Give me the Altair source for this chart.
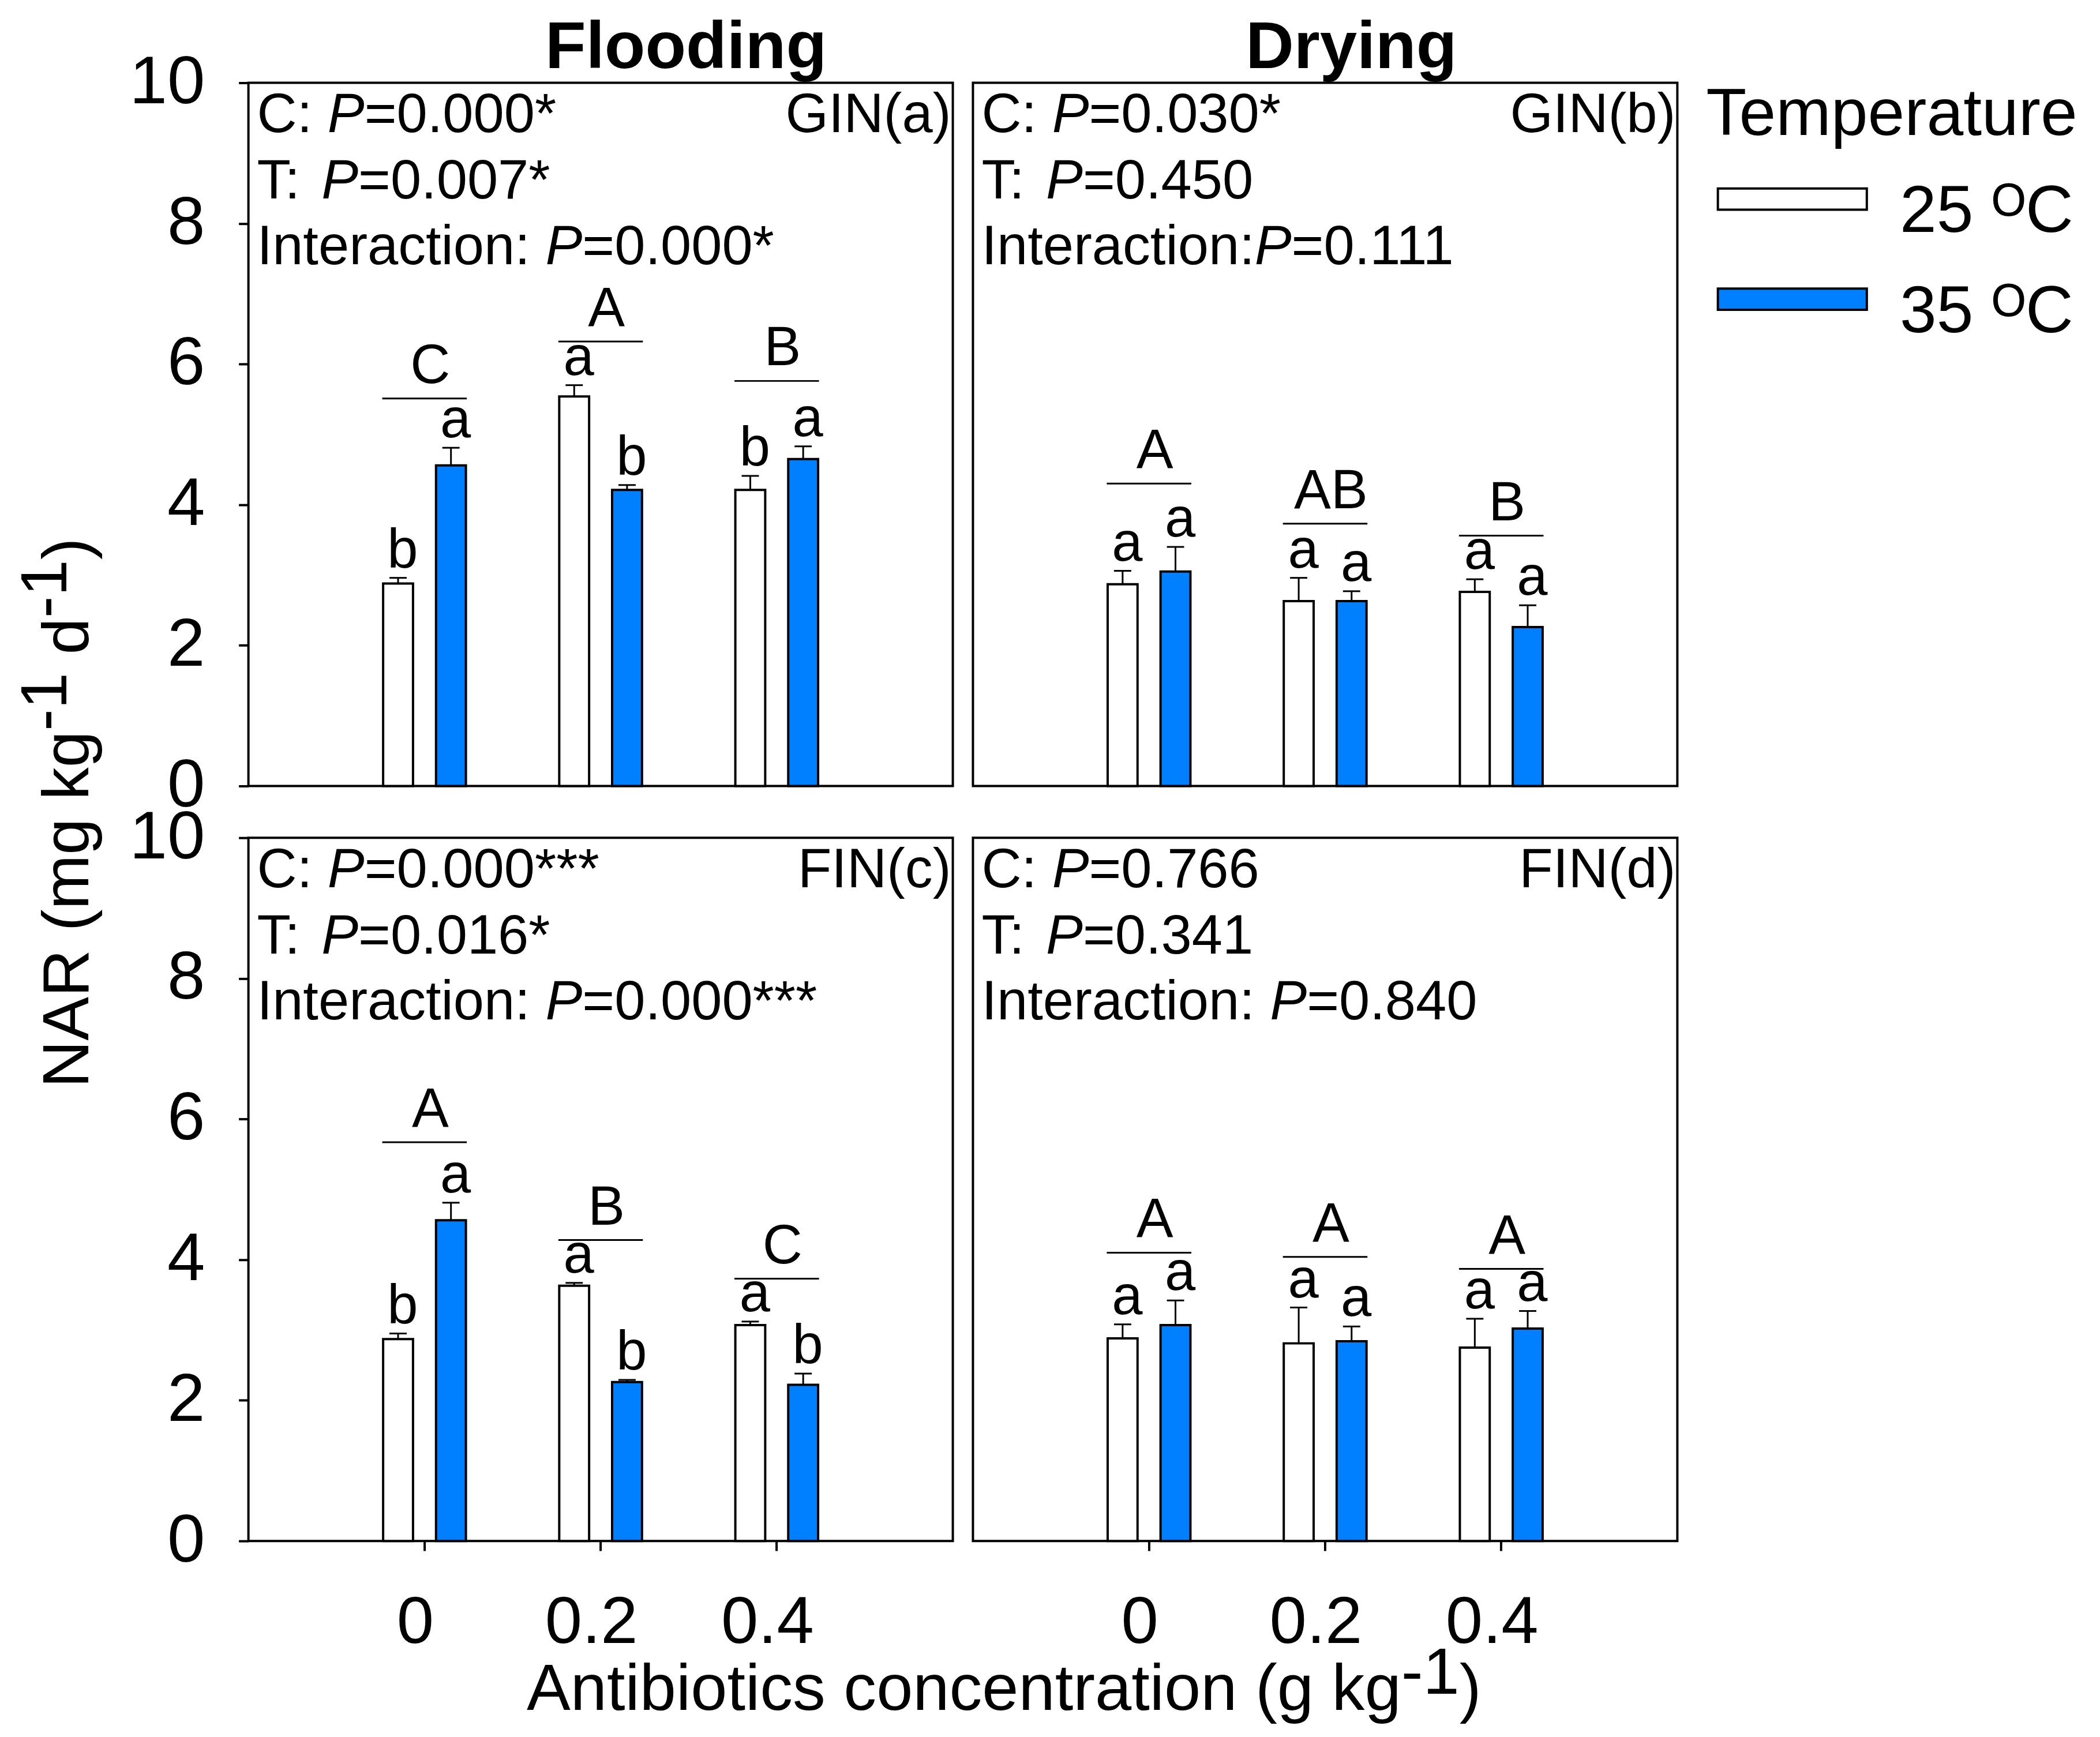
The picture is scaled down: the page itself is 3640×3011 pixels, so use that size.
import altair as alt
import pandas as pd

FONT = "Liberation Sans"

# ---------------- data ----------------
conc = ["0", "0.2", "0.4"]
temps = ["25 ᴼC", "35 ᴼC"]
colors = ["#ffffff", "#0080ff"]

# (a) GIN, Flooding
a_mean25 = [2.88, 5.54, 4.21]
a_se25 = [0.08, 0.16, 0.20]
a_mean35 = [4.56, 4.21, 4.65]
a_se35 = [0.25, 0.07, 0.18]
a_let25 = ["b", "a", "b"]
a_let35 = ["a", "b", "a"]
a_group = ["C", "A", "B"]
a_bracket = [5.51, 6.32, 5.76]
a_stats = [("C: ", "=0.000*"), ("T: ", "=0.007*"), ("Interaction: ", "=0.000*")]
a_tag = "GIN(a)"

# (b) GIN, Drying
b_mean25 = [2.87, 2.63, 2.76]
b_se25 = [0.19, 0.33, 0.18]
b_mean35 = [3.05, 2.63, 2.26]
b_se35 = [0.35, 0.14, 0.31]
b_let25 = ["a", "a", "a"]
b_let35 = ["a", "a", "a"]
b_group = ["A", "AB", "B"]
b_bracket = [4.30, 3.73, 3.56]
b_stats = [("C: ", "=0.030*"), ("T: ", "=0.450"), ("Interaction:", "=0.111")]
b_tag = "GIN(b)"

# (c) FIN, Flooding
c_mean25 = [2.87, 3.63, 3.07]
c_se25 = [0.08, 0.04, 0.05]
c_mean35 = [4.56, 2.26, 2.22]
c_se35 = [0.25, 0.03, 0.16]
c_let25 = ["b", "a", "a"]
c_let35 = ["a", "b", "b"]
c_group = ["A", "B", "C"]
c_bracket = [5.67, 4.28, 3.73]
c_stats = [("C: ", "=0.000***"), ("T: ", "=0.016*"), ("Interaction: ", "=0.000***")]
c_tag = "FIN(c)"

# (d) FIN, Drying
d_mean25 = [2.88, 2.81, 2.75]
d_se25 = [0.20, 0.51, 0.41]
d_mean35 = [3.07, 2.84, 3.02]
d_se35 = [0.35, 0.21, 0.25]
d_let25 = ["a", "a", "a"]
d_let35 = ["a", "a", "a"]
d_group = ["A", "A", "A"]
d_bracket = [4.10, 4.04, 3.87]
d_stats = [("C: ", "=0.766"), ("T: ", "=0.341"), ("Interaction: ", "=0.840")]
d_tag = "FIN(d)"

y_ticks = [0, 2, 4, 6, 8, 10]

# ---------------- layout / style ----------------
W, H = 1225, 1223
TXT = 96
ARIAL = {'C': 0.722, 'T': 0.611, 'I': 0.278, 'n': 0.556, 't': 0.278, 'e': 0.556,
         'r': 0.333, 'a': 0.556, 'c': 0.5, 'i': 0.222, 'o': 0.556, ':': 0.278,
         ' ': 0.278, 'P': 0.667}


def tw(s, size):
    return sum(ARIAL[ch] for ch in s) * size


def txt(s, x, y, size=TXT, style="normal", weight="normal", align="left", angle=0):
    return alt.Chart(pd.DataFrame({"t": [s]})).mark_text(
        font=FONT, fontSize=size, fontStyle=style, fontWeight=weight,
        align=align, baseline="alphabetic", angle=angle, color="black"
    ).encode(x=alt.value(x), y=alt.value(y), text="t:N")


legend = alt.Legend(
    orient="none", legendX=2535, legendY=0, padding=0, offset=0,
    title="Temperature", titleFont=FONT, titleFontSize=115, titleFontWeight="normal",
    titleColor="black", titleBaseline="top", titlePadding=52, titleLimit=2000,
    labelFont=FONT, labelFontSize=115, labelColor="black", labelBaseline="middle",
    labelLimit=2000, labelOffset=222, symbolType="M-1,-1.1H6V-0.1H-1Z", symbolSize=5476,
    symbolStrokeColor="black", symbolStrokeWidth=4, symbolOpacity=1, rowPadding=58,
)

view = alt.ViewBackground(stroke="black", strokeWidth=4, fill="transparent")


def panel(m25, se25, m35, se35, l25, l35, groups, bracket, stats, tag, show_x, show_y, extra):
    df = pd.DataFrame({
        "conc": conc * 2,
        "temp": [temps[0]] * 3 + [temps[1]] * 3,
        "mean": m25 + m35,
        "se": se25 + se35,
        "letter": l25 + l35,
    })
    df["top"] = df["mean"] + df["se"]
    gdf = pd.DataFrame({"conc": conc, "cap": groups, "brk": bracket})

    xaxis = alt.Axis(labelFont=FONT, labelFontSize=116, labelColor="black", labelAngle=0,
                     tickSize=17, tickWidth=4, tickColor="black", domain=False, grid=False,
                     labelPadding=68, labelOffset=-16) if show_x else None
    yaxis = alt.Axis(values=y_ticks, format="d", labelFont=FONT, labelFontSize=118,
                     labelColor="black", tickSize=17, tickWidth=4, tickColor="black",
                     domain=False, grid=False, labelPadding=59) if show_y else None
    xs = alt.Scale(paddingInner=0.53, paddingOuter=0.765)
    ys = alt.Scale(domain=[0, 10], nice=False)
    x = alt.X("conc:N", sort=conc, scale=xs, axis=xaxis, title=None)
    xo = alt.XOffset("temp:N", sort=temps, scale=alt.Scale(paddingInner=0.435, paddingOuter=0))

    def Y(f):
        return alt.Y(f, scale=ys, axis=yaxis, title=None, stack=False)

    base = alt.Chart(df)
    bars = base.mark_bar(stroke="black", strokeWidth=4, opacity=1).encode(
        x=x, xOffset=xo, y=Y("mean:Q"),
        color=alt.Color("temp:N", sort=temps, scale=alt.Scale(domain=temps, range=colors), legend=legend),
    )
    err = base.mark_rule(color="black", strokeWidth=3).encode(x=x, xOffset=xo, y=Y("mean:Q"), y2="top:Q")
    caps = base.mark_tick(color="black", size=30, thickness=3, opacity=1).encode(x=x, xOffset=xo, y=Y("top:Q"))
    lets = base.mark_text(font=FONT, fontSize=TXT, baseline="alphabetic", dy=-18, dx=8, color="black").encode(
        x=x, xOffset=xo, y=Y("top:Q"), text="letter:N")
    g = alt.Chart(gdf)
    brk = g.mark_tick(color="black", size=147, thickness=3, opacity=1).encode(x=x, y=Y("brk:Q"))
    capt = g.mark_text(font=FONT, fontSize=TXT, baseline="alphabetic", dy=-27, dx=10, color="black").encode(
        x=x, y=Y("brk:Q"), text="cap:N")

    texts = []
    x0 = 15
    for (pre, rest), yy in zip(stats, [86, 201, 316]):
        w = tw(pre, TXT)
        texts += [txt(pre, x0, yy), txt("P", x0 + w, yy, style="italic"),
                  txt(rest, x0 + w + tw("P", TXT), yy)]
    texts.append(txt(tag, W - 3, 86, align="right"))
    return alt.layer(bars, err, caps, lets, brk, capt, *texts, *extra).properties(
        width=W, height=H, view=view)


# invisible frame fixing the canvas extent (panel a coordinates)
frame = alt.Chart(pd.DataFrame({"t": [0]})).mark_rule(strokeOpacity=0, strokeWidth=1).encode(
    x=alt.value(-422), x2=alt.value(3210), y=alt.value(-129), y2=alt.value(2874))

# column titles
extra_a = [frame, txt("Flooding", 761, -26, size=116, weight="bold", align="center")]
extra_b = [txt("Drying", 658, -26, size=116, weight="bold", align="center")]

# y-axis title with superscripts (rotated), in panel a coordinates
YS = 114
yb, yr = -279, -317
y1 = 1748
y2 = y1 - 5.445 * YS
y3 = y2 - 0.889 * YS - 0.278 * YS
y4 = y3 - 0.556 * YS
y5 = y4 - 0.889 * YS
extra_a += [
    txt("NAR (mg kg", yb, y1, size=YS, angle=270),
    txt("-1", yr, y2, size=YS, angle=270),
    txt("d", yb, y3, size=YS, angle=270),
    txt("-1", yr, y4, size=YS, angle=270),
    txt(")", yb, y5, size=YS, angle=270),
]

# x-axis title with superscript, in panel c coordinates
xb, xr = 1517, 1489
x1 = 484
x2 = x1 + 13.339 * YS
x3 = x2 + 0.889 * YS
extra_c = [
    txt("Antibiotics concentration (g kg", x1, xb, size=YS),
    txt("-1", x2, xr, size=YS),
    txt(")", x3, xb, size=YS),
]

pa = panel(a_mean25, a_se25, a_mean35, a_se35, a_let25, a_let35, a_group, a_bracket, a_stats, a_tag, False, True, extra_a)
pb = panel(b_mean25, b_se25, b_mean35, b_se35, b_let25, b_let35, b_group, b_bracket, b_stats, b_tag, False, False, extra_b)
pc = panel(c_mean25, c_se25, c_mean35, c_se35, c_let25, c_let35, c_group, c_bracket, c_stats, c_tag, True, True, extra_c)
pd_ = panel(d_mean25, d_se25, d_mean35, d_se35, d_let25, d_let35, d_group, d_bracket, d_stats, d_tag, True, False, [])

chart = alt.concat(pa, pb, pc, pd_, columns=2, spacing={"row": 90, "column": 35}, bounds="flush").properties(
    padding=0, background="white",
).configure_view(stroke="black", strokeWidth=4)

chart.save("out.html", embed_options={"renderer": "svg", "actions": False})
